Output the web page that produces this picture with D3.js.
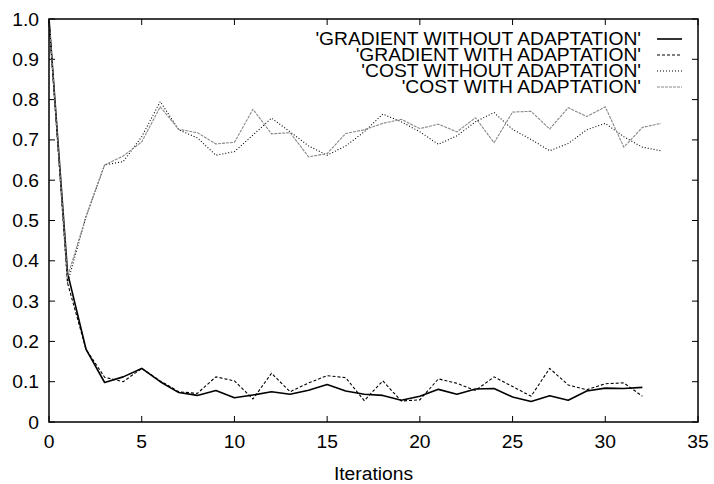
<!DOCTYPE html>
<html>
<head>
<meta charset="utf-8">
<script src="https://cdn.jsdelivr.net/npm/d3@7"></script>
<style>
  body { margin: 0; background: #fff; }
  text { font-family: "Liberation Sans", Arial, sans-serif; font-size: 18px; fill: #000; }
</style>
</head>
<body>
<svg id="chart" width="714" height="484"></svg>
<script>
// values, one per iteration starting at 0
var gradNoAdapt = [1.0, 0.37, 0.18, 0.098, 0.112, 0.133, 0.1, 0.073, 0.066, 0.078, 0.06,
  0.067, 0.075, 0.069, 0.079, 0.093, 0.077, 0.069, 0.066, 0.054, 0.064, 0.081, 0.069,
  0.082, 0.083, 0.062, 0.051, 0.065, 0.054, 0.077, 0.084, 0.083, 0.086];
var gradAdapt = [1.0, 0.345, 0.18, 0.111, 0.1, 0.133, 0.102, 0.075, 0.071, 0.112, 0.102,
  0.057, 0.121, 0.075, 0.097, 0.115, 0.11, 0.053, 0.102, 0.052, 0.055, 0.107, 0.096,
  0.078, 0.112, 0.088, 0.064, 0.133, 0.092, 0.08, 0.095, 0.097, 0.064];
var costNoAdapt = [1.0, 0.345, 0.51, 0.638, 0.646, 0.708, 0.795, 0.725, 0.705, 0.662, 0.671,
  0.712, 0.754, 0.72, 0.685, 0.662, 0.685, 0.72, 0.764, 0.745, 0.72, 0.689, 0.71,
  0.745, 0.768, 0.726, 0.701, 0.673, 0.691, 0.725, 0.741, 0.708, 0.682, 0.673];
var costAdapt = [1.0, 0.36, 0.51, 0.638, 0.66, 0.695, 0.782, 0.726, 0.718, 0.69, 0.694,
  0.776, 0.715, 0.718, 0.658, 0.666, 0.716, 0.725, 0.741, 0.751, 0.728, 0.739, 0.72,
  0.755, 0.693, 0.769, 0.771, 0.727, 0.78, 0.758, 0.782, 0.682, 0.731, 0.741];

var seriesNames = ["'GRADIENT WITHOUT ADAPTATION'", "'GRADIENT WITH ADAPTATION'",
  "'COST WITHOUT ADAPTATION'", "'COST WITH ADAPTATION'"];
var xTicks = [0, 5, 10, 15, 20, 25, 30, 35];
var yTicks = [0, 0.1, 0.2, 0.3, 0.4, 0.5, 0.6, 0.7, 0.8, 0.9, 1.0];
var xLabel = "Iterations";

var styles = [
  {stroke: "#000", width: 1.6, dash: null},
  {stroke: "#000", width: 1.1, dash: "3,2"},
  {stroke: "#000", width: 1.1, dash: "1,2"},
  {stroke: "#888", width: 1.1, dash: "3,1"}
];

var svg = d3.select("#chart");
var plotL = 49, plotR = 698, plotT = 19, plotB = 422;
var stretch = 1.07;

var x = d3.scaleLinear().domain([0, 35]).range([plotL, plotR]);
var y = d3.scaleLinear().domain([0, 1]).range([plotB, plotT]);

// stretched text helper
function label(g, tx, ty, txt, anchor){
    g.append("text")
        .attr("transform", "translate(" + tx + "," + ty + ") scale(" + stretch + ",1)")
        .attr("text-anchor", anchor)
        .text(txt);
}

// ticks, mirrored on all four sides, pointing inward
var tickLen = 6;
var ticks = svg.append("g").attr("stroke", "#000").attr("stroke-width", 1);
xTicks.forEach(function(t){
    ticks.append("line").attr("x1", x(t)).attr("x2", x(t)).attr("y1", plotB).attr("y2", plotB - tickLen);
    ticks.append("line").attr("x1", x(t)).attr("x2", x(t)).attr("y1", plotT).attr("y2", plotT + tickLen);
    label(svg, x(t), 448, t, "middle");
});
yTicks.forEach(function(t){
    ticks.append("line").attr("x1", plotL).attr("x2", plotL + tickLen).attr("y1", y(t)).attr("y2", y(t));
    ticks.append("line").attr("x1", plotR).attr("x2", plotR - tickLen).attr("y1", y(t)).attr("y2", y(t));
    label(svg, 39, y(t) + 6.5, t === 0 ? "0" : d3.format(".1f")(t), "end");
});

label(svg, (plotL + plotR) / 2, 480, xLabel, "middle");

// lines
var line = d3.line()
    .x(function(d, i){ return x(i); })
    .y(function(d){ return y(d); });

var allSeries = [gradNoAdapt, gradAdapt, costNoAdapt, costAdapt];
allSeries.forEach(function(s, k){
    svg.append("path")
        .attr("d", line(s))
        .attr("fill", "none")
        .attr("stroke", styles[k].stroke)
        .attr("stroke-width", styles[k].width)
        .attr("stroke-dasharray", styles[k].dash)
        .attr("stroke-linejoin", "round");
});

// legend
seriesNames.forEach(function(name, k){
    var by = 45 + k * 16;
    label(svg, 641, by, name, "end");
    svg.append("line")
        .attr("x1", 657).attr("x2", 682)
        .attr("y1", by - 6).attr("y2", by - 6)
        .attr("stroke", styles[k].stroke)
        .attr("stroke-width", styles[k].width)
        .attr("stroke-dasharray", styles[k].dash);
});

// frame
svg.append("rect")
    .attr("x", plotL).attr("y", plotT)
    .attr("width", plotR - plotL).attr("height", plotB - plotT)
    .attr("fill", "none")
    .attr("stroke", "#000")
    .attr("stroke-width", 1.5);
</script>
</body>
</html>
